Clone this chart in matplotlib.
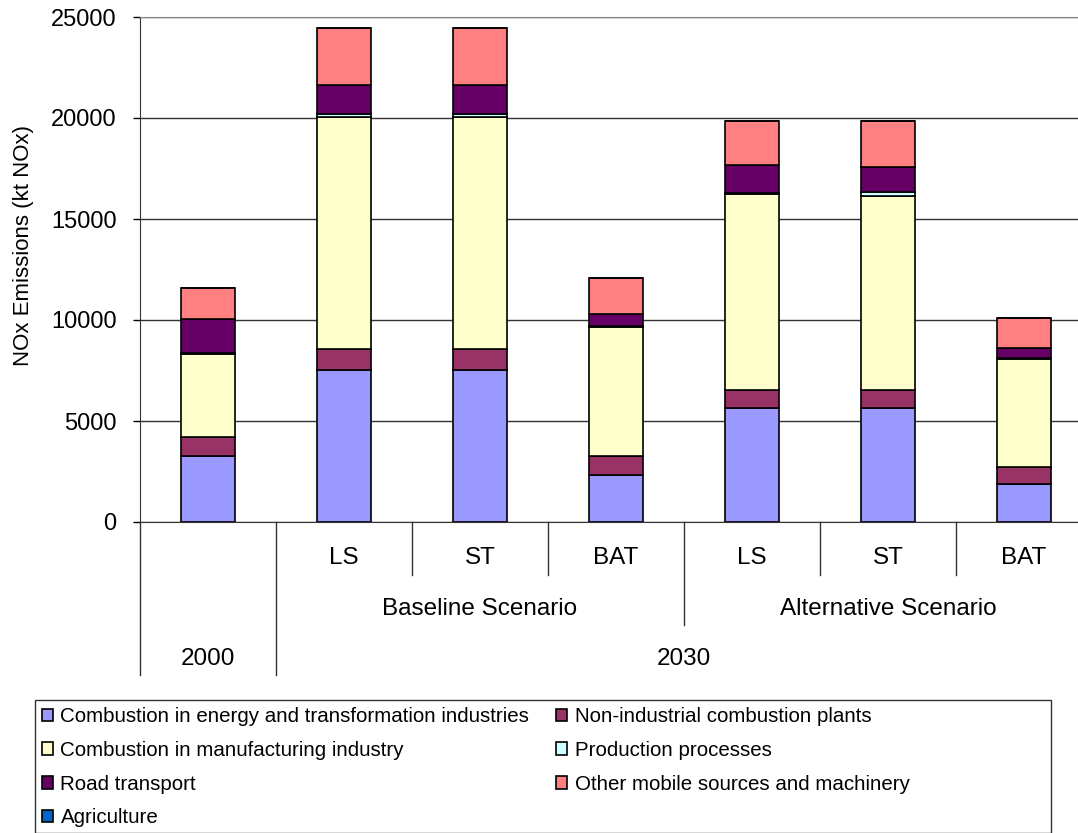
import matplotlib.pyplot as plt
import matplotlib.transforms as mtransforms
from matplotlib.patches import Rectangle
from matplotlib.lines import Line2D

plt.rcParams['font.family'] = ['Liberation Sans', 'DejaVu Sans']

# data (kt NOx)
groups = ['2000', 'LS', 'ST', 'BAT', 'LS', 'ST', 'BAT']
sectors = ['Combustion in energy and transformation industries',
           'Non-industrial combustion plants',
           'Combustion in manufacturing industry',
           'Production processes',
           'Road transport',
           'Other mobile sources and machinery',
           'Agriculture']
energy = [3280, 7540, 7540, 2330, 5640, 5640, 1870]
nonind = [940, 1040, 1040, 950, 880, 880, 850]
manuf = [4080, 11470, 11470, 6380, 9720, 9630, 5360]
production = [80, 150, 150, 50, 60, 180, 20]
road = [1680, 1420, 1420, 580, 1360, 1240, 500]
other_mobile = [1500, 2850, 2850, 1780, 2210, 2290, 1480]
agriculture = [0, 0, 0, 0, 0, 0, 0]

colors = ['#9999FF', '#993366', '#FFFFCC', '#CCFFFF', '#660066', '#FF8080', '#0066CC']
series = [energy, nonind, manuf, production, road, other_mobile, agriculture]

W, H = 1078, 833
fig = plt.figure(figsize=(W / 100, H / 100), dpi=100)
# plot area runs past the right edge of the picture, as in the original
ax = fig.add_axes([140 / W, 1 - 522 / H, 952 / W, 505 / H])

x = list(range(len(groups)))
bottom = [0] * len(groups)
handles = []
for vals, col, name in zip(series, colors, sectors):
    b = ax.bar(x, vals, 0.4, bottom=bottom, color=col, edgecolor='black',
               linewidth=1.2, label=name, zorder=3)
    handles.append(b)
    bottom = [bo + v for bo, v in zip(bottom, vals)]

ax.set_xlim(-0.5, 6.5)
ax.set_ylim(0, 25000)
ax.set_yticks(range(0, 25001, 5000))
ax.tick_params(axis='y', labelsize=17, length=5, width=1, direction='out', pad=12)
ax.set_xticks([])
ax.grid(axis='y', color='#333333', linewidth=1, zorder=0)
ax.spines['left'].set_color('#333333')
ax.spines['bottom'].set_color('#333333')
ax.spines['top'].set_color('#888888')
ax.spines['right'].set_visible(False)

fig.text(24 / W, 1 - 245 / H, 'NOx Emissions (kt NOx)', rotation=90,
         ha='center', va='center', fontsize=16)

# multi-level category axis
tr = mtransforms.blended_transform_factory(ax.transData, fig.transFigure)


def fy(py):
    return 1 - py / H


def vline(xd, y0, y1):
    ax.add_line(Line2D([xd, xd], [fy(y0), fy(y1)], transform=tr, color='#333333',
                       linewidth=1, clip_on=False))


vline(-0.5, 522, 675)
vline(0.5, 522, 675)
for xd in [1.5, 2.5, 4.5, 5.5]:
    vline(xd, 522, 575)
vline(3.5, 522, 625)

fs = 17.5
for i, g in enumerate(groups):
    yy = 659 if i == 0 else 558
    ax.text(i, fy(yy), g, transform=tr, ha='center', va='center', fontsize=fs)
ax.text(2, fy(609), 'Baseline Scenario', transform=tr, ha='center', va='center', fontsize=fs)
ax.text(5, fy(609), 'Alternative Scenario', transform=tr, ha='center', va='center', fontsize=fs)
ax.text(3.5, fy(659), '2030', transform=tr, ha='center', va='center', fontsize=fs)

# legend (row-wise order like the original)
order = [0, 2, 4, 6, 1, 3, 5]
leg = fig.legend([handles[i] for i in order], [sectors[i] for i in order],
                 ncol=2, loc='upper left', bbox_to_anchor=(42 / W, 1 - 707 / H),
                 frameon=False, fontsize=14.8, handlelength=0.55, handleheight=0.55,
                 handletextpad=0.35, labelspacing=0.72, columnspacing=1.3,
                 borderaxespad=0, borderpad=0)
fig.add_artist(Rectangle((35 / W, 0), (1051 - 35) / W, 1 - 700 / H,
                         transform=fig.transFigure, fill=False,
                         edgecolor='#333333', linewidth=1))

fig.savefig('out.png', dpi=100)
